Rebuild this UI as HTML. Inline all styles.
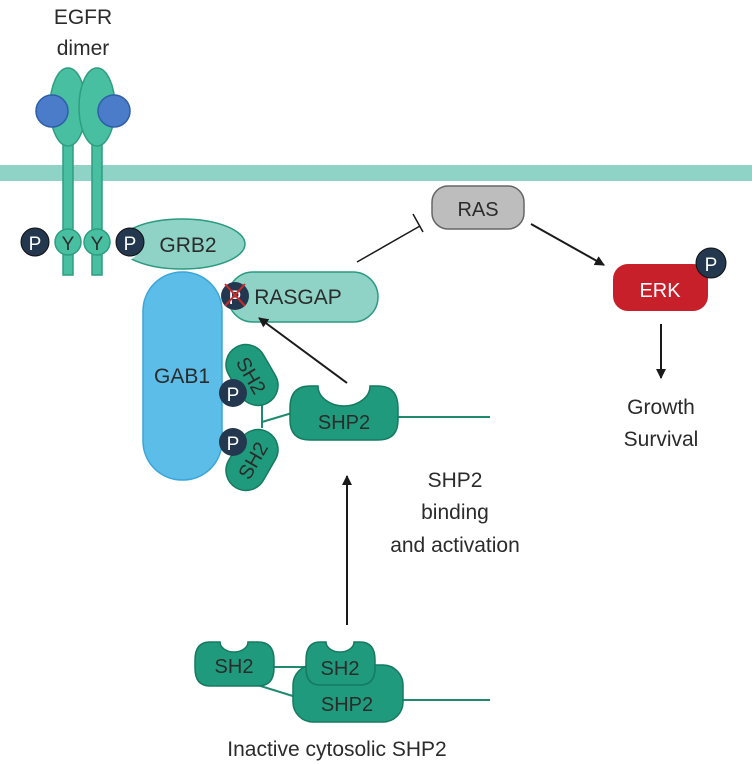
<!DOCTYPE html>
<html><head><style>
html,body{margin:0;padding:0;background:#fff;}
svg{display:block;}
text{font-family:"Liberation Sans",sans-serif;fill:#2b2b2b;}
</style></head><body>
<svg width="752" height="764" viewBox="0 0 752 764" xmlns="http://www.w3.org/2000/svg">
<defs>
<marker id="ah" markerWidth="10" markerHeight="10" refX="9" refY="5" orient="auto" markerUnits="userSpaceOnUse"><path d="M0,0 L10,5 L0,10 Z" fill="#1a1a1a"/></marker>
</defs>
<!-- membrane -->
<rect x="0" y="165" width="752" height="16" fill="#8fd3c7"/>
<!-- EGFR -->
<text x="83" y="24" font-size="21" text-anchor="middle">EGFR</text>
<text x="83" y="55" font-size="21" text-anchor="middle">dimer</text>
<rect x="63" y="135" width="10" height="140" fill="#48bfa0" stroke="#2e9e80" stroke-width="1.5"/>
<rect x="92" y="135" width="10" height="140" fill="#48bfa0" stroke="#2e9e80" stroke-width="1.5"/>
<ellipse cx="68" cy="107" rx="18" ry="39" fill="#48bfa0" stroke="#2e9e80" stroke-width="1.5"/>
<ellipse cx="97" cy="107" rx="18" ry="39" fill="#48bfa0" stroke="#2e9e80" stroke-width="1.5"/>
<circle cx="52" cy="111" r="16" fill="#4a7cc9" stroke="#2f5ea8" stroke-width="1.5"/>
<circle cx="114" cy="111" r="16" fill="#4a7cc9" stroke="#2f5ea8" stroke-width="1.5"/>
<!-- GRB2 -->
<ellipse cx="182" cy="244" rx="63" ry="25" fill="#8fd3c7" stroke="#2a9a80" stroke-width="1.5"/>
<circle cx="122" cy="244" r="18" fill="#fff"/>
<text x="188" y="252" font-size="21" text-anchor="middle">GRB2</text>
<circle cx="68" cy="242" r="13" fill="#48bfa0" stroke="#2e9e80" stroke-width="1.5"/>
<circle cx="97" cy="242" r="13" fill="#48bfa0" stroke="#2e9e80" stroke-width="1.5"/>
<text x="68" y="250" font-size="19" text-anchor="middle">Y</text>
<text x="97" y="250" font-size="19" text-anchor="middle">Y</text>
<circle cx="35" cy="242" r="14" fill="#23384f" stroke="#111" stroke-width="1"/>
<circle cx="130" cy="242" r="14" fill="#23384f" stroke="#111" stroke-width="1"/>
<text x="35" y="250" font-size="19" text-anchor="middle" style="fill:#fff">P</text>
<text x="130" y="250" font-size="19" text-anchor="middle" style="fill:#fff">P</text>
<!-- GAB1 -->
<rect x="143" y="272" width="79" height="208" rx="39" fill="#5bbde8" stroke="#3aa5d8" stroke-width="1.5"/>
<text x="182" y="383" font-size="21" text-anchor="middle">GAB1</text>
<!-- RASGAP -->
<rect x="228" y="272" width="150" height="50" rx="25" fill="#8fd3c7" stroke="#2a9a80" stroke-width="1.5"/>
<text x="298" y="304" font-size="21" text-anchor="middle">RASGAP</text>
<circle cx="235" cy="296" r="14" fill="#23384f"/>
<text x="235" y="304" font-size="19" text-anchor="middle" style="fill:#fff">P</text>
<line x1="225" y1="284" x2="245" y2="306" stroke="#d02a2a" stroke-width="2"/>
<line x1="245" y1="284" x2="225" y2="306" stroke="#d02a2a" stroke-width="2"/>
<!-- connectors SH2 to SHP2 -->
<line x1="262" y1="395" x2="262" y2="428" stroke="#1f8a6e" stroke-width="2"/>
<line x1="262" y1="422" x2="292" y2="413" stroke="#1f8a6e" stroke-width="2"/>
<!-- SH2 pills -->
<g transform="translate(252,375) rotate(60)">
<rect x="-32" y="-20" width="64" height="40" rx="20" fill="#1f9a7c" stroke="#157a60" stroke-width="1.5"/>
<text x="0" y="8" font-size="20" text-anchor="middle">SH2</text>
</g>
<g transform="translate(252,460) rotate(-60)">
<rect x="-32" y="-20" width="64" height="40" rx="20" fill="#1f9a7c" stroke="#157a60" stroke-width="1.5"/>
<text x="0" y="8" font-size="20" text-anchor="middle">SH2</text>
</g>
<circle cx="233" cy="393" r="14" fill="#23384f"/>
<text x="233" y="401" font-size="19" text-anchor="middle" style="fill:#fff">P</text>
<circle cx="233" cy="442" r="14" fill="#23384f"/>
<text x="233" y="450" font-size="19" text-anchor="middle" style="fill:#fff">P</text>
<!-- active SHP2 -->
<line x1="398" y1="417" x2="490" y2="417" stroke="#1f8a6e" stroke-width="2"/>
<path d="M310 386 L318 386 A26 20 0 0 0 370 386 L378 386 Q398 386 398 408 L398 420 Q398 440 378 440 L310 440 Q290 440 290 420 L290 408 Q290 386 310 386 Z" fill="#1f9a7c" stroke="#157a60" stroke-width="1.5"/>
<text x="344" y="429" font-size="20" text-anchor="middle">SHP2</text>
<!-- arrow to RASGAP -->
<line x1="347" y1="383" x2="259" y2="318" stroke="#1a1a1a" stroke-width="2" marker-end="url(#ah)"/>
<!-- RAS -->
<line x1="357" y1="262" x2="420" y2="226" stroke="#1a1a1a" stroke-width="1.5"/>
<line x1="413" y1="214" x2="423" y2="232" stroke="#1a1a1a" stroke-width="1.5"/>
<rect x="432" y="186" width="92" height="43" rx="16" fill="#bdbdbd" stroke="#666" stroke-width="1.5"/>
<text x="478" y="216" font-size="20" text-anchor="middle">RAS</text>
<line x1="531" y1="224" x2="604" y2="265" stroke="#1a1a1a" stroke-width="2" marker-end="url(#ah)"/>
<!-- ERK -->
<rect x="613" y="264" width="95" height="47" rx="15" fill="#c8202a"/>
<text x="660" y="297" font-size="20" text-anchor="middle" style="fill:#fff">ERK</text>
<circle cx="711" cy="263" r="15" fill="#23384f" stroke="#111" stroke-width="1"/>
<text x="711" y="271" font-size="19" text-anchor="middle" style="fill:#fff">P</text>
<line x1="661" y1="324" x2="661" y2="378" stroke="#1a1a1a" stroke-width="2" marker-end="url(#ah)"/>
<text x="661" y="414" font-size="21" text-anchor="middle">Growth</text>
<text x="661" y="446" font-size="21" text-anchor="middle">Survival</text>
<!-- binding arrow -->
<line x1="347" y1="625" x2="347" y2="476" stroke="#1a1a1a" stroke-width="2" marker-end="url(#ah)"/>
<text x="455" y="487" font-size="21" text-anchor="middle">SHP2</text>
<text x="455" y="519" font-size="21" text-anchor="middle">binding</text>
<text x="455" y="552" font-size="21" text-anchor="middle">and activation</text>
<!-- inactive SHP2 -->
<line x1="274" y1="667" x2="310" y2="667" stroke="#1f8a6e" stroke-width="2"/>
<line x1="254" y1="684" x2="296" y2="697" stroke="#1f8a6e" stroke-width="2"/>
<line x1="403" y1="700" x2="490" y2="700" stroke="#1f8a6e" stroke-width="2"/>
<rect x="293" y="665" width="110" height="57" rx="20" fill="#1f9a7c" stroke="#157a60" stroke-width="1.5"/>
<path d="M320 642 L326 642 A14 10 0 0 0 354 642 L360 642 Q375 642 375 660 L375 668 Q375 685 360 685 L320 685 Q306 685 306 668 L306 660 Q306 642 320 642 Z" fill="#1f9a7c" stroke="#157a60" stroke-width="1.5"/>
<path d="M210 642 L220 642 A14 10 0 0 0 248 642 L258 642 Q274 642 274 660 L274 668 Q274 686 258 686 L210 686 Q195 686 195 668 L195 660 Q195 642 210 642 Z" fill="#1f9a7c" stroke="#157a60" stroke-width="1.5"/>
<text x="234" y="673" font-size="20" text-anchor="middle">SH2</text>
<text x="340" y="675" font-size="20" text-anchor="middle">SH2</text>
<text x="347" y="711" font-size="20" text-anchor="middle">SHP2</text>
<text x="337" y="756" font-size="21" text-anchor="middle">Inactive cytosolic SHP2</text>
</svg>
</body></html>
